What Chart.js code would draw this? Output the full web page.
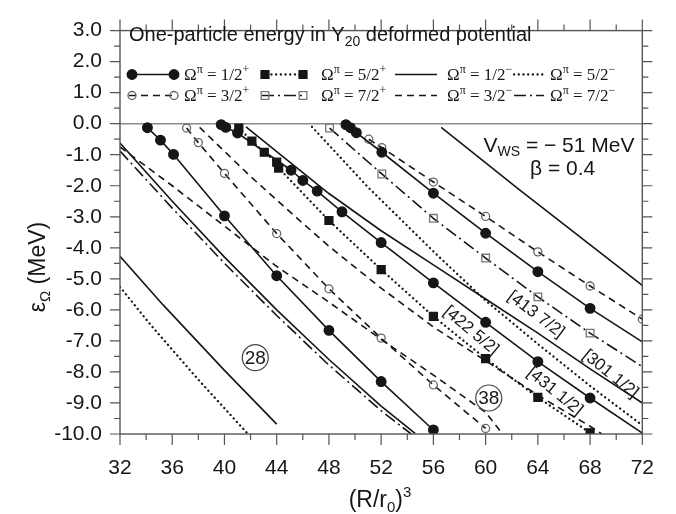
<!DOCTYPE html>
<html lang="en">
<head>
<meta charset="UTF-8">
<title>One-particle energy in Y20 deformed potential</title>
<script src="https://cdn.jsdelivr.net/npm/chart.js@4.4.0/dist/chart.umd.min.js"></script>
<style>
  html, body { margin: 0; padding: 0; background: #fff; }
  #wrap { width: 676px; height: 514px; }
</style>
</head>
<body>
<div id="wrap"><canvas id="levels" width="676" height="514"></canvas></div>
<script>
// axis ticks
const xTicks = [32, 36, 40, 44, 48, 52, 56, 60, 64, 68, 72];
const yTicks = [3, 2, 1, 0, -1, -2, -3, -4, -5, -6, -7, -8, -9, -10];

// positive parity levels, (R/r0)^3 vs energy (MeV)
const p12aX = [34.1, 35.1, 36.1, 40, 44, 48, 52, 56];
const p12aY = [-0.13, -0.53, -0.99, -2.97, -4.9, -6.66, -8.31, -9.87];
const p32aX = [37.1, 38, 40, 44, 48, 52, 56, 60];
const p32aY = [-0.14, -0.61, -1.6, -3.54, -5.32, -6.91, -8.42, -9.82];
const p12bX = [39.75, 40.1, 41, 45.1, 46, 47.1, 49, 52, 56, 60, 64, 68, 72];   // [431 1/2]
const p12bY = [-0.03, -0.12, -0.3, -1.5, -1.83, -2.17, -2.84, -3.83, -5.13, -6.4, -7.67, -8.84, -9.97];
const p52X = [41.1, 42.1, 43.05, 44, 44.15, 48, 52, 56, 60, 64, 68];          // [422 5/2]
const p52Y = [-0.14, -0.56, -0.92, -1.24, -1.43, -3.12, -4.7, -6.21, -7.57, -8.82, -9.96];
const p72X = [48.05, 52.05, 56, 60, 64, 68, 72];                              // [413 7/2]
const p72Y = [-0.14, -1.62, -3.05, -4.33, -5.58, -6.75, -7.83];
const p12cX = [49.3, 49.65, 50.1, 52.05, 56, 60, 64, 68, 72];
const p12cY = [-0.03, -0.13, -0.29, -0.92, -2.24, -3.53, -4.77, -5.95, -7.03];
const p32bX = [51.05, 52.05, 56, 60, 64, 68, 72];
const p32bY = [-0.5, -0.77, -1.88, -2.99, -4.13, -5.23, -6.3];

// negative parity levels
const n12aX = [32, 35.3, 40, 44];
const n12aY = [-4.27, -5.84, -7.95, -9.68];
const n52aX = [32, 34.3, 38, 41.8];
const n52aY = [-5.26, -6.46, -8.25, -10];
const n12bX = [32, 36, 40, 44, 48, 52, 54.6];
const n12bY = [-0.62, -2.5, -4.3, -6.0, -7.6, -9.1, -9.98];
const n72X = [32, 36, 40, 44, 48, 52, 54.3];
const n72Y = [-0.88, -2.72, -4.5, -6.18, -7.78, -9.25, -10];
const n32aX = [32, 36, 40, 44, 48, 52, 56, 60, 61.2];
const n32aY = [-0.75, -2.0, -3.3, -4.6, -5.75, -6.95, -8.1, -9.3, -9.95];
const n32bX = [38.1, 42, 45.7, 48, 52, 56, 60.4, 64, 68, 68.9];
const n32bY = [-0.12, -1.7, -3.1, -3.95, -5.3, -6.55, -7.75, -8.75, -9.75, -10];
const n12cX = [41.65, 44, 48, 52, 56, 60, 64, 68, 72];                         // [301 1/2]
const n12cY = [-0.1, -0.9, -2.25, -3.45, -4.55, -5.65, -6.75, -7.9, -9.0];
const n52bX = [46.7, 51, 56.4, 60, 64, 68, 72];
const n52bY = [-0.1, -2.05, -4.28, -5.7, -7.1, -8.45, -9.72];
const n12dX = [56.6, 62.5, 72];
const n12dY = [-0.12, -2.1, -5.21];

// text placed in the plot
const orbitNames = ['[422 5/2]', '[413 7/2]', '[301 1/2]', '[431 1/2]'];
const orbitX = [58.88, 63.85, 69.56, 65.3];
const orbitY = [-6.67, -6.15, -8.07, -8.63];
const magicNums = ['28', '38'];
const magicX = [42.36, 60.24];
const magicY = [-7.54, -8.84];
const legendFrac = ['1/2', '5/2', '1/2', '5/2', '3/2', '7/2', '3/2', '7/2'];
const legendSign = ['+', '+', '\u2212', '\u2212', '+', '+', '\u2212', '\u2212'];
const legendKind = ['p12', 'p52', 'n12', 'n52', 'p32', 'p72', 'n32', 'n72'];

const INK = '#161616';
const SANS = '"Liberation Sans", Arial, Helvetica, sans-serif';
const SERIF = '"Liberation Serif", "Times New Roman", serif';
const DASH = [7, 5], DOT = [0.1, 4.6], DASHDOT = [12, 4, 2, 4];
const HOLLOW = 'rgba(255,255,255,0)';

const styles = {
    p12: { dash: [], marker: 'circle', r: 4.8, fill: INK, edge: INK },
    p32: { dash: DASH, marker: 'circle', r: 4, fill: HOLLOW, edge: '#666' },
    p52: { dash: DOT, marker: 'rect', r: 5.6, fill: INK, edge: INK },
    p72: { dash: DASHDOT, marker: 'rect', r: 5.4, fill: HOLLOW, edge: '#777' },
    n12: { dash: [] },
    n32: { dash: DASH },
    n52: { dash: DOT },
    n72: { dash: DASHDOT }
};

// [xs, ys, style, last point without marker]
const curves = [
    [n12aX, n12aY, 'n12'], [n52aX, n52aY, 'n52'], [n12bX, n12bY, 'n12'], [n72X, n72Y, 'n72'],
    [n32aX, n32aY, 'n32'], [n32bX, n32bY, 'n32'], [n12cX, n12cY, 'n12'], [n52bX, n52bY, 'n52'],
    [n12dX, n12dY, 'n12'],
    [p12aX, p12aY, 'p12'], [p32aX, p32aY, 'p32'], [p12bX, p12bY, 'p12', true], [p52X, p52Y, 'p52'],
    [p72X, p72Y, 'p72', true], [p12cX, p12cY, 'p12', true], [p32bX, p32bY, 'p32']
];

const datasets = curves.map(([xs, ys, kind, bareEnd]) => {
    const st = styles[kind];
    const dotted = st.dash === DOT;
    return {
        data: xs.map((x, i) => ({ x: x, y: ys[i] })),
        showLine: true,
        tension: 0,
        borderColor: INK,
        borderWidth: dotted ? 2.3 : 1.6,
        borderDash: st.dash,
        borderCapStyle: dotted ? 'round' : 'butt',
        pointStyle: st.marker || 'circle',
        pointRadius: ctx => !st.marker ? 0 : (bareEnd && ctx.dataIndex === xs.length - 1 ? 0 : st.r),
        pointHoverRadius: 0,
        pointBackgroundColor: st.fill || INK,
        pointBorderColor: st.edge || INK,
        pointBorderWidth: 1.3
    };
});

function rich(ctx, x, y, parts, align) {
    let w = 0;
    parts.forEach(p => { ctx.font = p.font; p.w = ctx.measureText(p.t).width; w += p.w; });
    let cx = align === 'center' ? x - w / 2 : align === 'right' ? x - w : x;
    ctx.textAlign = 'left';
    ctx.textBaseline = 'alphabetic';
    parts.forEach(p => { ctx.font = p.font; ctx.fillText(p.t, cx, y + (p.dy || 0)); cx += p.w; });
}

function marker(ctx, x, y, st) {
    ctx.beginPath();
    if (st.marker === 'rect') {
        const h = st.r * Math.SQRT1_2;
        ctx.rect(x - h, y - h, 2 * h, 2 * h);
    } else {
        ctx.arc(x, y, st.r, 0, Math.PI * 2);
    }
    ctx.fillStyle = st.fill; ctx.fill();
    ctx.strokeStyle = st.edge; ctx.lineWidth = 1.3; ctx.stroke();
}

function sample(ctx, x0, x1, yy, st) {
    const dotted = st.dash === DOT;
    ctx.save();
    ctx.strokeStyle = INK;
    ctx.lineWidth = dotted ? 2.3 : 1.6;
    ctx.lineCap = dotted ? 'round' : 'butt';
    ctx.setLineDash(st.dash);
    ctx.beginPath(); ctx.moveTo(x0, yy); ctx.lineTo(x1, yy); ctx.stroke();
    ctx.setLineDash([]);
    if (st.marker) { marker(ctx, x0 + 3, yy, st); marker(ctx, x1 - 3, yy, st); }
    ctx.restore();
}

const decor = {
    id: 'decor',
    beforeDatasetsDraw(chart) {
        const { ctx, chartArea: a, scales: { y } } = chart;
        const y0 = y.getPixelForValue(0);
        ctx.save();
        ctx.strokeStyle = '#8c8c8c';
        ctx.lineWidth = 1.6;
        ctx.beginPath(); ctx.moveTo(a.left, y0); ctx.lineTo(a.right, y0); ctx.stroke();
        ctx.restore();
    },
    afterDraw(chart) {
        const { ctx, chartArea: a, scales: { x, y } } = chart;
        ctx.save();
        // frame and outward ticks
        ctx.strokeStyle = '#555';
        ctx.lineWidth = 1.4;
        ctx.strokeRect(a.left, a.top, a.right - a.left, a.bottom - a.top);
        ctx.lineWidth = 1.2;
        ctx.beginPath();
        for (let v = 32; v <= 72; v += 2) {
            const px = x.getPixelForValue(v), len = v % 4 === 0 ? 11 : 6;
            ctx.moveTo(px, a.bottom); ctx.lineTo(px, a.bottom + len);
            ctx.moveTo(px, a.top); ctx.lineTo(px, a.top - len);
        }
        for (let v = -10; v <= 3; v += 0.5) {
            const py = y.getPixelForValue(v), len = Number.isInteger(v) ? 10 : 6;
            ctx.moveTo(a.left, py); ctx.lineTo(a.left - len, py);
            ctx.moveTo(a.right, py); ctx.lineTo(a.right + len, py);
        }
        ctx.stroke();

        ctx.fillStyle = INK;
        // axis titles
        rich(ctx, 380, 507, [
            { t: '(R/r', font: '23px ' + SANS },
            { t: '0', font: '15px ' + SANS, dy: 5 },
            { t: ')', font: '23px ' + SANS },
            { t: '3', font: '15px ' + SANS, dy: -10 }
        ], 'center');
        ctx.save();
        ctx.translate(37, 267);
        ctx.rotate(-Math.PI / 2);
        rich(ctx, 0, 8, [
            { t: '\u03b5', font: '23px ' + SANS },
            { t: '\u03a9', font: '15px ' + SANS, dy: 5 },
            { t: ' (MeV)', font: '23px ' + SANS }
        ], 'center');
        ctx.restore();

        // legend
        rich(ctx, 129, 41, [
            { t: 'One-particle energy in Y', font: '20px ' + SANS },
            { t: '20', font: '14px ' + SANS, dy: 5 },
            { t: ' deformed potential', font: '20px ' + SANS }
        ], 'left');
        const cols = [[129, 177, 184], [262, 306, 321], [395, 437, 447], [514, 544, 550]];
        const rows = [74.5, 95.5];
        legendKind.forEach((kind, i) => {
            const c = cols[i % 4], yy = rows[Math.floor(i / 4)];
            sample(ctx, c[0], c[1], yy, styles[kind]);
            ctx.fillStyle = INK;
            rich(ctx, c[2], yy + 5, [
                { t: '\u03a9', font: '17px ' + SERIF },
                { t: '\u03c0', font: '12px ' + SERIF, dy: -7 },
                { t: ' = ' + legendFrac[i], font: '17px ' + SERIF },
                { t: legendSign[i], font: '12px ' + SERIF, dy: -7 }
            ], 'left');
        });

        // potential parameters
        rich(ctx, x.getPixelForValue(71.4), y.getPixelForValue(-0.92), [
            { t: 'V', font: '21px ' + SANS },
            { t: 'WS', font: '14px ' + SANS, dy: 4 },
            { t: ' = \u2212 51 MeV', font: '21px ' + SANS }
        ], 'right');
        rich(ctx, x.getPixelForValue(65.9), y.getPixelForValue(-1.64), [
            { t: '\u03b2 = 0.4', font: '21px ' + SANS }
        ], 'center');

        // orbit labels along the lines
        const tilt = [40, 37, 39, 39];
        ctx.font = '17px ' + SANS;
        ctx.textAlign = 'center';
        ctx.textBaseline = 'middle';
        orbitNames.forEach((t, i) => {
            ctx.save();
            ctx.translate(x.getPixelForValue(orbitX[i]), y.getPixelForValue(orbitY[i]));
            ctx.rotate(tilt[i] * Math.PI / 180);
            ctx.fillText(t, 0, 0);
            ctx.restore();
        });

        // magic numbers
        magicNums.forEach((t, i) => {
            const px = x.getPixelForValue(magicX[i]), py = y.getPixelForValue(magicY[i]);
            ctx.beginPath();
            ctx.arc(px, py, 13, 0, Math.PI * 2);
            ctx.fillStyle = '#fff'; ctx.fill();
            ctx.strokeStyle = '#444'; ctx.lineWidth = 1.2; ctx.stroke();
            ctx.fillStyle = INK;
            ctx.font = '19px ' + SANS;
            ctx.textAlign = 'center';
            ctx.textBaseline = 'middle';
            ctx.fillText(t, px, py + 1);
        });
        ctx.restore();
    }
};

new Chart(document.getElementById('levels'), {
    type: 'scatter',
    data: { datasets: datasets },
    options: {
        responsive: false,
        devicePixelRatio: 1,
        animation: false,
        events: [],
        layout: { padding: { top: 16, right: 31, left: 0, bottom: 0 } },
        plugins: { legend: { display: false }, tooltip: { enabled: false } },
        scales: {
            x: {
                type: 'linear', min: 32, max: 72,
                afterBuildTicks: s => { s.ticks = xTicks.map(v => ({ value: v })); },
                afterFit: s => { s.height = 80; },
                grid: { display: false, drawTicks: false },
                border: { display: false },
                ticks: { padding: 22, autoSkip: false, maxRotation: 0, color: INK, font: { family: SANS, size: 21 } }
            },
            y: {
                type: 'linear', min: -10, max: 3,
                afterBuildTicks: s => { s.ticks = yTicks.map(v => ({ value: v })); },
                afterFit: s => { s.width = 120; },
                grid: { display: false, drawTicks: false },
                border: { display: false },
                ticks: {
                    padding: 18, autoSkip: false, color: INK, font: { family: SANS, size: 21 },
                    callback: v => Number(v).toFixed(1)
                }
            }
        }
    },
    plugins: [decor]
});
</script>
</body>
</html>
